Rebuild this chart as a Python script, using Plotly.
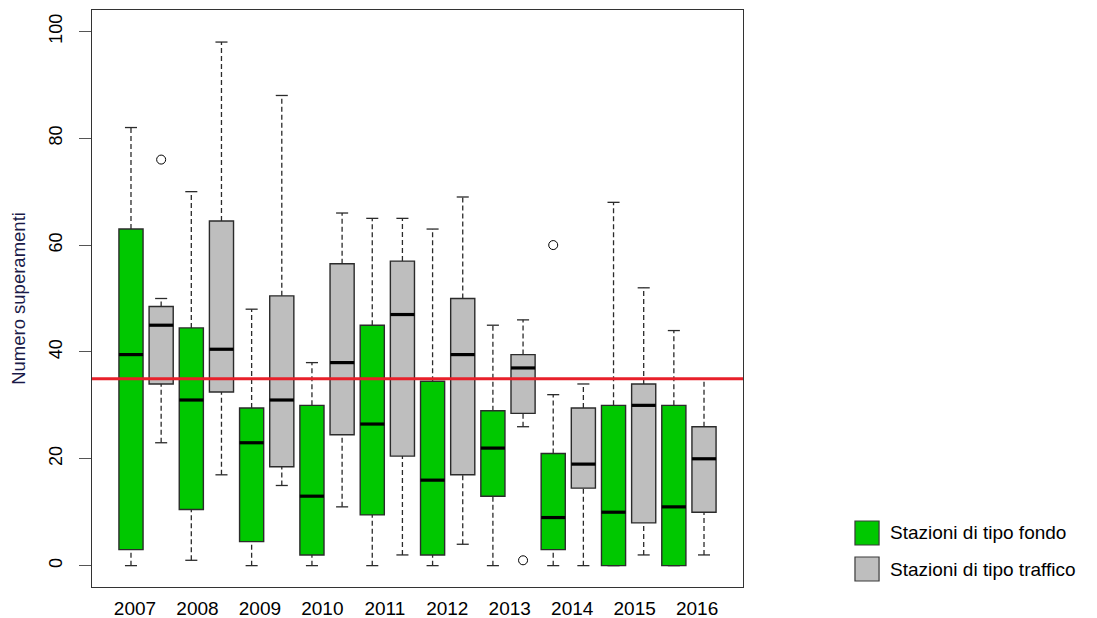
import plotly.graph_objects as go

# ---- data ----
anni = ["2007", "2008", "2009", "2010", "2011", "2012", "2013", "2014", "2015", "2016"]

# Stazioni di tipo fondo (green)
fondo_min = [0, 1, 0, 0, 0, 0, 0, 0, 0, 0]
fondo_q1 = [3, 10.5, 4.5, 2, 9.5, 2, 13, 3, 0, 0]
fondo_med = [39.5, 31, 23, 13, 26.5, 16, 22, 9, 10, 11]
fondo_q3 = [63, 44.5, 29.5, 30, 45, 34.5, 29, 21, 30, 30]
fondo_max = [82, 70, 48, 38, 65, 63, 45, 32, 68, 44]
fondo_out_anno = ["2014"]
fondo_out_val = [60]

# Stazioni di tipo traffico (grey)
traffico_min = [23, 17, 15, 11, 2, 4, 26, 0, 2, 2]
traffico_q1 = [34, 32.5, 18.5, 24.5, 20.5, 17, 28.5, 14.5, 8, 10]
traffico_med = [45, 40.5, 31, 38, 47, 39.5, 37, 19, 30, 20]
traffico_q3 = [48.5, 64.5, 50.5, 56.5, 57, 50, 39.5, 29.5, 34, 26]
traffico_max = [50, 98, 88, 66, 65, 69, 46, 34, 52, 35]
traffico_out_anno = ["2007", "2013"]
traffico_out_val = [76, 1]

soglia = 35  # limit line

serie_nomi = ["Stazioni di tipo fondo", "Stazioni di tipo traffico"]

# ---- positions (box slots 1..20, green then grey for each year) ----
pos_fondo = [2 * i + 1 for i in range(len(anni))]
pos_traffico = [2 * i + 2 for i in range(len(anni))]
label_pos = [1.133 + 2.071 * i for i in range(len(anni))]

BOX_W = 0.8
CAP_W = 0.4

GREEN = "#00C800"
GREY = "#BEBEBE"
EDGE = "#2b2b2b"

fig = go.Figure()


def add_group(name, color, pos, mn, q1, med, q3, mx, out_anni, out_vals):
    # boxes as floating bars
    fig.add_trace(go.Bar(
        x=pos, y=[b - a for a, b in zip(q1, q3)], base=q1, width=BOX_W,
        marker=dict(color=color, line=dict(color=EDGE, width=1.4)),
        name=name, showlegend=False, hoverinfo="skip"))
    # dashed whiskers
    wx, wy = [], []
    for p, a, b, c, d in zip(pos, mn, q1, q3, mx):
        wx += [p, p, None, p, p, None]
        wy += [a, b, None, c, d, None]
    fig.add_trace(go.Scatter(x=wx, y=wy, mode="lines", showlegend=False,
                             line=dict(color=EDGE, width=1.3, dash="5px,3px"),
                             hoverinfo="skip"))
    # caps
    cx, cy = [], []
    for p, a, d in zip(pos, mn, mx):
        cx += [p - CAP_W / 2, p + CAP_W / 2, None, p - CAP_W / 2, p + CAP_W / 2, None]
        cy += [a, a, None, d, d, None]
    fig.add_trace(go.Scatter(x=cx, y=cy, mode="lines", showlegend=False,
                             line=dict(color=EDGE, width=1.3), hoverinfo="skip"))
    # medians
    mx_, my_ = [], []
    for p, m in zip(pos, med):
        mx_ += [p - BOX_W / 2, p + BOX_W / 2, None]
        my_ += [m, m, None]
    fig.add_trace(go.Scatter(x=mx_, y=my_, mode="lines", showlegend=False,
                             line=dict(color="black", width=3.2), hoverinfo="skip"))
    # outliers
    ox = [pos[anni.index(a)] for a in out_anni]
    fig.add_trace(go.Scatter(x=ox, y=out_vals, mode="markers", showlegend=False,
                             marker=dict(symbol="circle-open", size=9,
                                         color="black", line=dict(width=1)),
                             hoverinfo="skip"))


add_group(serie_nomi[0], GREEN, pos_fondo, fondo_min, fondo_q1,
          fondo_med, fondo_q3, fondo_max, fondo_out_anno, fondo_out_val)
add_group(serie_nomi[1], GREY, pos_traffico, traffico_min,
          traffico_q1, traffico_med, traffico_q3, traffico_max,
          traffico_out_anno, traffico_out_val)

fig.add_hline(y=soglia, line=dict(color="#E8202A", width=3), layer="above")

# ---- legend (drawn in paper coordinates, outside the plot frame) ----
leg_x0, leg_x1, leg_tx = 1.172, 1.209, 1.2227
leg_rows = [(0.0728, 0.1144, 0.0936), (0.0104, 0.0520, 0.0295)]
for (y0, y1, ty), col, nome in zip(leg_rows, [GREEN, GREY], serie_nomi):
    fig.add_shape(type="rect", xref="paper", yref="paper",
                  x0=leg_x0, x1=leg_x1, y0=y0, y1=y1,
                  fillcolor=col, line=dict(color="#3a3a3a", width=1.2))
    fig.add_annotation(xref="paper", yref="paper", x=leg_tx, y=ty,
                       text=nome, showarrow=False, xanchor="left",
                       yanchor="middle", font=dict(size=19, color="black"))

FONT = "Liberation Sans, Arial, sans-serif"

# the page body adds an 8px margin, so the figure is 8px smaller and shifted
fig.update_layout(
    width=1089, height=610,
    margin=dict(l=84, r=354, t=2, b=31),
    plot_bgcolor="white", paper_bgcolor="white",
    barmode="overlay",
    font=dict(family=FONT, size=18, color="black"),
    showlegend=False,
    xaxis=dict(range=[-0.293, 21.293], tickvals=label_pos, ticktext=anni,
               automargin=False,
               showgrid=False, zeroline=False, showline=True, mirror=True,
               linecolor="#333333", linewidth=1.2, ticks="",
               ticklabelstandoff=4, tickfont=dict(size=19)),
    yaxis=dict(range=[-4, 104], tickvals=[0, 20, 40, 60, 80, 100],
               automargin=False,
               showgrid=False, zeroline=False, showline=True, mirror=True,
               linecolor="#333333", linewidth=1.2, ticks="outside",
               ticklen=12, tickcolor="#555555", tickwidth=1.2,
               tickangle=-90, tickfont=dict(size=18), ticklabelstandoff=10,
               title=dict(text="Numero superamenti", standoff=16,
                          font=dict(size=18.5, color="#1a1a48"))),
)

fig.write_html("out.html")
